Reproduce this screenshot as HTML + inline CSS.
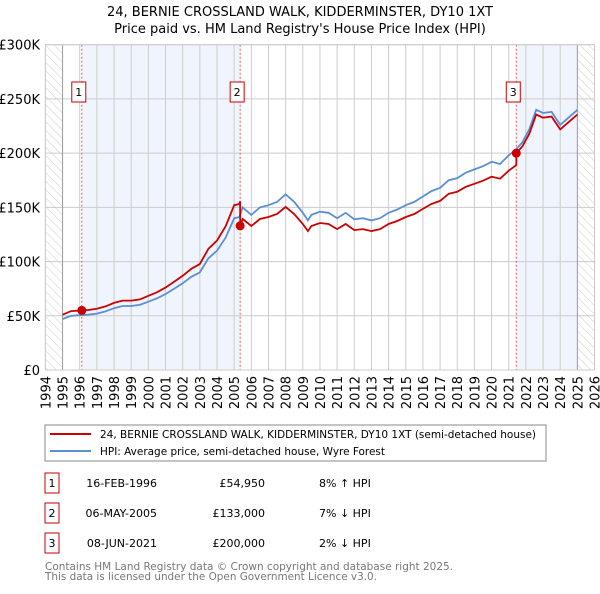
<!DOCTYPE html>
<html><head><meta charset="utf-8"><style>
body{margin:0;background:#fff;font-family:"DejaVu Sans","Liberation Sans",sans-serif}
svg text{font-family:"DejaVu Sans","Liberation Sans",sans-serif}
</style></head><body>
<svg id="c" width="600" height="590" xmlns="http://www.w3.org/2000/svg">
<defs><pattern id="h" width="6" height="6" patternUnits="userSpaceOnUse" patternTransform="rotate(-45)"><line x1="0" y1="0" x2="0" y2="6" stroke="#ccc" stroke-width="1"/></pattern></defs>
<text x="300" y="16" text-anchor="middle" font-size="13">24, BERNIE CROSSLAND WALK, KIDDERMINSTER, DY10 1XT</text>
<text x="300" y="33" text-anchor="middle" font-size="13">Price paid vs. HM Land Registry's House Price Index (HPI)</text>
<g id="plot"></g>
<rect x="45" y="425" width="501" height="36" fill="#fff" stroke="#888"/>
<line x1="50" y1="434" x2="91" y2="434" stroke="#cc0000" stroke-width="2"/>
<text x="100" y="438" font-size="11" textLength="436" lengthAdjust="spacingAndGlyphs">24, BERNIE CROSSLAND WALK, KIDDERMINSTER, DY10 1XT (semi-detached house)</text>
<line x1="50" y1="451" x2="91" y2="451" stroke="#5b8fd4" stroke-width="2"/>
<text x="100" y="455" font-size="11" textLength="285" lengthAdjust="spacingAndGlyphs">HPI: Average price, semi-detached house, Wyre Forest</text>
<g id="tbl" font-size="11"></g>
<text x="45" y="570" font-size="11" fill="#777" textLength="408" lengthAdjust="spacingAndGlyphs">Contains HM Land Registry data © Crown copyright and database right 2025.</text>
<text x="45" y="580" font-size="11" fill="#777" textLength="332" lengthAdjust="spacingAndGlyphs">This data is licensed under the Open Government Licence v3.0.</text>
</svg>
<script>
const hpiYears=[1995,1995.5,1996,1996.5,1997,1997.5,1998,1998.5,1999,1999.5,2000,2000.5,2001,2001.5,2002,2002.5,2003,2003.5,2004,2004.5,2005,2005.3,2005.5,2006,2006.5,2007,2007.5,2008,2008.5,2009,2009.3,2009.5,2010,2010.5,2011,2011.5,2012,2012.5,2013,2013.5,2014,2014.5,2015,2015.5,2016,2016.5,2017,2017.5,2018,2018.5,2019,2019.5,2020,2020.5,2021,2021.4,2021.8,2022.2,2022.6,2023,2023.5,2024,2024.5,2025];
const hpiValues=[47,50,50.5,51,52,54,57,59,59,60,63,66,70,75,80,86,90,103,110,122,140,141,150,143,150,152,155,162,155,145,138,143,146,145,140,145,139,140,138,140,145,148,152,155,160,165,168,175,177,182,185,188,192,190,198,203,210,222,240,237,238,226,233,240];
const saleDates=[1996.12,2005.35,2021.44];
const salePrices=[54.95,133,200];
const saleLabels=["1","2","3"];
const saleDateText=["16-FEB-1996","06-MAY-2005","08-JUN-2021"];
const salePriceText=["£54,950","£133,000","£200,000"];
const saleHpiText=["8% ↑ HPI","7% ↓ HPI","2% ↓ HPI"];
const yTicks=[0,50,100,150,200,250,300];
const yTickLabels=["£0","£50K","£100K","£150K","£200K","£250K","£300K"];
const xYears=[1994,1995,1996,1997,1998,1999,2000,2001,2002,2003,2004,2005,2006,2007,2008,2009,2010,2011,2012,2013,2014,2015,2016,2017,2018,2019,2020,2021,2022,2023,2024,2025,2026];

const NS="http://www.w3.org/2000/svg";
const X=y=>45.4+(y-1994)*17.16, Y=v=>370-v*1.0843;
const g=document.getElementById('plot');
function mk(t,a,p){const e=document.createElementNS(NS,t);for(const k in a)e.setAttribute(k,a[k]);(p||g).appendChild(e);return e;}
function hpiAt(d){for(let i=0;i<hpiYears.length-1;i++){if(d<=hpiYears[i+1]){const f=(d-hpiYears[i])/(hpiYears[i+1]-hpiYears[i]);return hpiValues[i]+f*(hpiValues[i+1]-hpiValues[i]);}}return hpiValues[hpiValues.length-1];}
let r;
r=mk('rect',{x:X(1994),y:Y(300),width:X(1995)-X(1994),height:Y(0)-Y(300),fill:'url(#h)'});

r=mk('rect',{x:X(2025),y:Y(300),width:X(2026)-X(2025),height:Y(0)-Y(300),fill:'url(#h)'});

r=mk('rect',{x:X(saleDates[0]),y:Y(300),width:X(saleDates[1])-X(saleDates[0]),height:Y(0)-Y(300),fill:'#f0f4fc'});

r=mk('rect',{x:X(saleDates[2]),y:Y(300),width:X(2025)-X(saleDates[2]),height:Y(0)-Y(300),fill:'#f0f4fc'});

yTicks.forEach((v,i)=>{const l=mk('line',{x1:X(1994),x2:X(2026),y1:Y(v),y2:Y(v),stroke:'#ccc'});

const t=mk('text',{x:40,y:Y(v)+5,'text-anchor':'end','font-size':'13'});t.textContent=yTickLabels[i];
});
xYears.forEach(y=>{const l=mk('line',{x1:X(y),x2:X(y),y1:Y(300),y2:Y(0),stroke:(y==1995||y==2025)?'#999':'#ccc'});

const t=mk('text',{x:0,y:0,'font-size':'13','text-anchor':'end',transform:`translate(${X(y)+5},376) rotate(-90)`});t.textContent=y;
});
saleDates.forEach(d=>{const l=mk('line',{x1:X(d),x2:X(d),y1:Y(300),y2:Y(0),stroke:'#e06060','stroke-dasharray':'2,2'});
});
let pb=hpiYears.map((y,i)=>X(y).toFixed(1)+','+Y(hpiValues[i]).toFixed(1)).join(' ');
const bl=mk('polyline',{points:pb,fill:'none',stroke:'#5b8fd4','stroke-width':1.8});

const ratios=saleDates.map((d,i)=>salePrices[i]/hpiAt(d));
let pts=[];
hpiYears.forEach((y,i)=>{let k=0;for(let j=0;j<saleDates.length;j++)if(y>=saleDates[j])k=j;
pts.push([y,hpiValues[i]*ratios[k]]);});
saleDates.forEach((d,j)=>{if(j>0)pts.push([d-0.001,hpiAt(d)*ratios[j-1]]);pts.push([d,salePrices[j]]);});
pts.sort((a,b)=>a[0]-b[0]);
const rl=mk('polyline',{points:pts.map(p=>X(p[0]).toFixed(1)+','+Y(p[1]).toFixed(1)).join(' '),fill:'none',stroke:'#cc0000','stroke-width':1.8});

saleDates.forEach((d,i)=>{const c=mk('circle',{cx:X(d),cy:Y(salePrices[i]),r:4.5,fill:'#cc0000'});

const b=mk('rect',{x:X(d)-10,y:82,width:14,height:20,fill:'#fff',stroke:'#cc0000'});

const t=mk('text',{x:X(d)-3,y:96,'text-anchor':'middle','font-size':'11'});t.textContent=saleLabels[i];
});
const fr=mk('rect',{x:X(1994),y:Y(300),width:X(2026)-X(1994),height:Y(0)-Y(300),fill:'none',stroke:'#ccc'});

const tb=document.getElementById('tbl');
saleDates.forEach((d,i)=>{const cy=483+i*30;
const b=mk('rect',{x:45,y:cy-10,width:14,height:20,fill:'#fff',stroke:'#cc0000'},tb);

const cells=[[52,'middle',saleLabels[i],'table-index'],[157,'end',saleDateText[i],'table-date'],[265,'end',salePriceText[i],'table-price'],[319,'start',saleHpiText[i],'table-hpi-diff']];
cells.forEach(c=>{const t=mk('text',{x:c[0],y:cy+4,'text-anchor':c[1]},tb);t.textContent=c[2];
});});
</script>
</body></html>
